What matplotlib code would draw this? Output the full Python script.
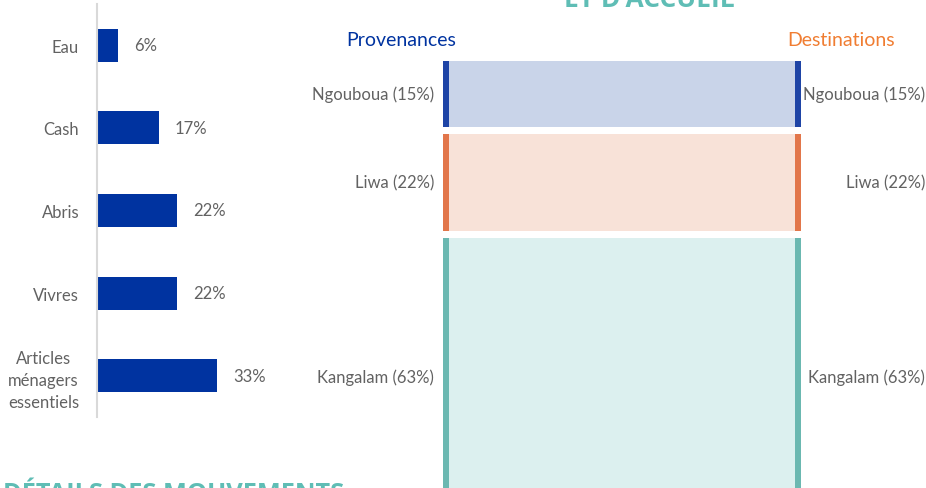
import matplotlib
matplotlib.use('Agg')
import matplotlib.pyplot as plt

plt.rcParams['font.family'] = ['Lato', 'DejaVu Sans']

# Left chart: assistance needs
besoins = ['Eau', 'Cash', 'Abris', 'Vivres', 'Articles\nménagers\nessentiels']
besoins_pct = [6, 17, 22, 22, 33]

# Right chart: origins / destinations
localites = ['Ngouboua', 'Liwa', 'Kangalam']
localites_pct = [15, 22, 63]

node_colors = ['#1E44A6', '#E2764A', '#6BB8B1']
flow_colors = ['#C9D4E9', '#F8E2D8', '#DCF0EF']

W, H = 926, 489
gray = '#626262'
teal = '#5FBDB5'
lab_fs = 12

fig = plt.figure(figsize=(W / 100, H / 100), dpi=100)


def px_box(x0, y0, x1, y1):
    # pixel box (top-left origin) -> figure fraction [left, bottom, width, height]
    return [x0 / W, 1 - y1 / H, (x1 - x0) / W, (y1 - y0) / H]


# ---- bar chart
ax = fig.add_axes(px_box(96.5, 5, 96.5 + 40 * 3.65, 418))
ypos = list(range(len(besoins)))
ax.barh(ypos, besoins_pct, height=0.4, color='#0033A0')
ax.set_xlim(0, 40)
ax.set_ylim(len(besoins) - 0.5, -0.5)
ax.set_yticks(ypos)
ax.set_yticklabels(besoins, fontsize=lab_fs, color=gray, linespacing=1.45)
for lbl in ax.get_yticklabels():
    lbl.set_multialignment('center')
ax.tick_params(axis='y', length=0, pad=12.5)
ax.set_xticks([])
for s in ['top', 'right', 'bottom']:
    ax.spines[s].set_visible(False)
ax.spines['left'].set_color('#D9D9D9')
ax.spines['left'].set_linewidth(1.5)
for y, v in zip(ypos, besoins_pct):
    ax.annotate(f'{v}%', (v, y), xytext=(11.5, 0), textcoords='offset points',
                va='center', ha='left', fontsize=lab_fs, color=gray)

# ---- sankey-like flow
sk_left, sk_right, sk_top = 443, 801, 62
scale = 4.41  # px per %
ax2 = fig.add_axes(px_box(sk_left, sk_top, sk_right, H))
ax2.set_xlim(0, 1)
ax2.set_ylim((H - sk_top) / scale, 0)
ax2.axis('off')
nw = 6 / (sk_right - sk_left)
gap = 7 / scale
start = 0
for name, v, nc, fc in zip(localites, localites_pct, node_colors, flow_colors):
    ax2.fill_between([nw, 1 - nw], start, start + v, color=fc, lw=0)
    ax2.bar([0, 1 - nw], v, bottom=start, width=nw, align='edge', color=nc)
    mid = start + v / 2
    ax2.text(-9 / (sk_right - sk_left), mid, f'{name} ({v}%)', ha='right', va='center',
             fontsize=lab_fs, color=gray, clip_on=False)
    ax2.text(1 + 124 / (sk_right - sk_left), mid, f'{name} ({v}%)', ha='right', va='center',
             fontsize=lab_fs, color=gray, clip_on=False)
    start += v + gap

fig.text(401 / W, 1 - 46 / H, 'Provenances', ha='center', va='baseline',
         fontsize=14, color='#0033A0')
fig.text(841 / W, 1 - 46 / H, 'Destinations', ha='center', va='baseline',
         fontsize=14, color='#F07D32')

# cropped section titles
fig.text(649 / W, 1 - 7 / H, "ET D'ACCUEIL", ha='center', va='baseline',
         fontsize=19, fontweight='bold', color=teal, family=['Open Sans', 'DejaVu Sans'])
fig.text(3 / W, 1 - 501 / H, 'DÉTAILS DES MOUVEMENTS', ha='left', va='baseline',
         fontsize=18.3, fontweight='bold', color=teal, family=['Open Sans', 'DejaVu Sans'])

fig.savefig('out.png', dpi=100)
